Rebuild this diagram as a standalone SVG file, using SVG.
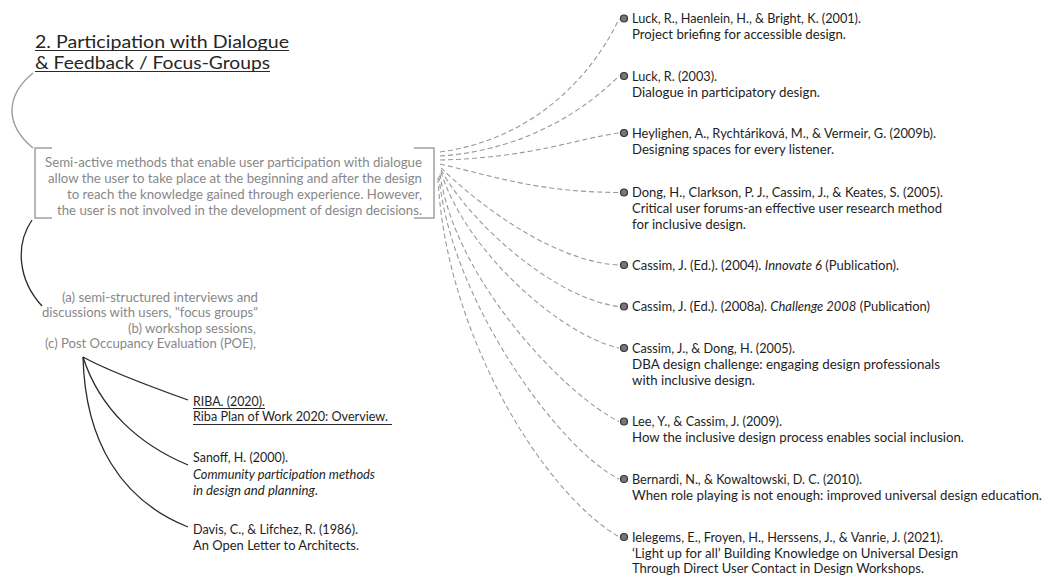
<svg xmlns="http://www.w3.org/2000/svg" width="1046" height="577" viewBox="0 0 1046 577">
  <style>
    text { font-family: Lato, "Liberation Sans", sans-serif; }
    .title { font-size: 17.5px; fill: #262626; }
    .para { font-size: 14px; fill: #888; text-anchor: end; }
    .item { font-size: 13.5px; fill: #888; text-anchor: end; }
    .ref { font-size: 13px; fill: #1e1e1e; }
    .it { font-style: italic; }
    .uline { stroke: #2a2a2a; stroke-width: 1.1; }
    .dash { fill: none; stroke: #999; stroke-width: 1.1; stroke-dasharray: 5 3; }
    .solid { fill: none; stroke: #2a2a2a; stroke-width: 1.3; }
    .grayarc { fill: none; stroke: #9c9c9c; stroke-width: 1.4; }
    .bracket { fill: none; stroke: #a0a0a0; stroke-width: 1.5; }
    .dot { fill: #777; stroke: #333; stroke-width: 1.2; }
  </style>

  <!-- connectors -->
  <g id="connectors">
    <!-- title to description, description to methods -->
    <path class="grayarc" d="M33,73 C5,96 5,125 33,148"/>
    <path class="solid" d="M32,220 C15,245 18,280 42,306"/>
    <!-- methods to references below -->
    <path class="solid" d="M83,357 C110,372 160,390 188,400"/>
    <path class="solid" d="M83,357 C100,410 140,445 188,465"/>
    <path class="solid" d="M83,357 C85,440 120,500 188,527"/>
    <!-- description to reference list -->
    <path class="dash" d="M440,152 C530,140 590,80 619,19"/>
    <path class="dash" d="M440,156 C530,150 590,105 619,76"/>
    <path class="dash" d="M440,160 C530,158 580,138 619,133"/>
    <path class="dash" d="M440,164 C500,178 540,192 619,192.5"/>
    <path class="dash" d="M441,168 C490,215 560,262 619,265"/>
    <path class="dash" d="M441,170 C475,230 560,300 619,306.5"/>
    <path class="dash" d="M441,172 C465,250 560,335 619,348"/>
    <path class="dash" d="M440,174 C455,280 565,395 619,421.5"/>
    <path class="dash" d="M439,176 C450,300 560,450 619,479"/>
    <path class="dash" d="M438,178 C445,330 540,490 619,537"/>
  </g>

  <!-- heading -->
  <g id="title">
    <text class="title" x="35" y="47.5" textLength="254" lengthAdjust="spacingAndGlyphs">2. Participation with Dialogue</text>
    <text class="title" x="35" y="68.5" textLength="235" lengthAdjust="spacingAndGlyphs">&amp; Feedback / Focus-Groups</text>
    <line class="uline" x1="35" y1="50.5" x2="289" y2="50.5"/>
    <line class="uline" x1="35" y1="71.5" x2="270" y2="71.5"/>
  </g>

  <!-- bracketed description -->
  <g id="description">
    <path class="bracket" d="M52,148 H35 V218 H52"/>
    <path class="bracket" d="M414,148 H434 V218 H414"/>
    <text class="para" x="422" y="166.5" textLength="377" lengthAdjust="spacingAndGlyphs">Semi-active methods that enable user participation with dialogue</text>
    <text class="para" x="422" y="182.5" textLength="374" lengthAdjust="spacingAndGlyphs">allow the user to take place at the beginning and after the design</text>
    <text class="para" x="422" y="198.5" textLength="355" lengthAdjust="spacingAndGlyphs">to reach the knowledge gained through experience. However,</text>
    <text class="para" x="422" y="214.5" textLength="365" lengthAdjust="spacingAndGlyphs">the user is not involved in the development of design decisions.</text>
  </g>

  <!-- methods -->
  <g id="methods">
    <text class="item" x="258" y="302" textLength="196" lengthAdjust="spacingAndGlyphs">(a) semi-structured interviews and</text>
    <text class="item" x="258" y="317" textLength="216" lengthAdjust="spacingAndGlyphs">discussions with users, "focus groups"</text>
    <text class="item" x="256" y="333" textLength="128" lengthAdjust="spacingAndGlyphs">(b) workshop sessions,</text>
    <text class="item" x="256" y="348" textLength="211" lengthAdjust="spacingAndGlyphs">(c) Post Occupancy Evaluation (POE),</text>
  </g>

  <!-- references for methods -->
  <g id="ref-riba">
    <text class="ref" x="193" y="406" textLength="72" lengthAdjust="spacingAndGlyphs">RIBA. (2020).</text>
    <text class="ref" x="193" y="421" textLength="195" lengthAdjust="spacingAndGlyphs">Riba Plan of Work 2020: Overview.</text>
    <line class="uline" x1="193" y1="408.5" x2="265" y2="408.5"/>
    <line class="uline" x1="193" y1="424.5" x2="392" y2="424.5"/>
  </g>
  <g id="ref-sanoff">
    <text class="ref" x="193" y="462" textLength="95" lengthAdjust="spacingAndGlyphs">Sanoff, H. (2000).</text>
    <text class="ref it" x="193" y="478.5" textLength="182" lengthAdjust="spacingAndGlyphs">Community participation methods</text>
    <text class="ref it" x="193" y="495" textLength="125" lengthAdjust="spacingAndGlyphs">in design and planning.</text>
  </g>
  <g id="ref-davis">
    <text class="ref" x="193" y="534" textLength="165" lengthAdjust="spacingAndGlyphs">Davis, C., &amp; Lifchez, R. (1986).</text>
    <text class="ref" x="193" y="550" textLength="166" lengthAdjust="spacingAndGlyphs">An Open Letter to Architects.</text>
  </g>

  <!-- reference list -->
  <g id="ref-luck-2001">
    <circle class="dot" cx="624" cy="18.5" r="3.5"/>
    <text class="ref" x="632" y="23" textLength="229" lengthAdjust="spacingAndGlyphs">Luck, R., Haenlein, H., &amp; Bright, K. (2001).</text>
    <text class="ref" x="632" y="39" textLength="214" lengthAdjust="spacingAndGlyphs">Project briefing for accessible design.</text>
  </g>
  <g id="ref-luck-2003">
    <circle class="dot" cx="624" cy="76" r="3.5"/>
    <text class="ref" x="632" y="80.5" textLength="85" lengthAdjust="spacingAndGlyphs">Luck, R. (2003).</text>
    <text class="ref" x="632" y="96.5" textLength="188" lengthAdjust="spacingAndGlyphs">Dialogue in participatory design.</text>
  </g>
  <g id="ref-heylighen">
    <circle class="dot" cx="624" cy="133" r="3.5"/>
    <text class="ref" x="632" y="137.5" textLength="304" lengthAdjust="spacingAndGlyphs">Heylighen, A., Rychtáriková, M., &amp; Vermeir, G. (2009b).</text>
    <text class="ref" x="632" y="153.5" textLength="202" lengthAdjust="spacingAndGlyphs">Designing spaces for every listener.</text>
  </g>
  <g id="ref-dong">
    <circle class="dot" cx="624" cy="192.5" r="3.5"/>
    <text class="ref" x="632" y="197" textLength="311" lengthAdjust="spacingAndGlyphs">Dong, H., Clarkson, P. J., Cassim, J., &amp; Keates, S. (2005).</text>
    <text class="ref" x="632" y="213" textLength="310" lengthAdjust="spacingAndGlyphs">Critical user forums-an effective user research method</text>
    <text class="ref" x="632" y="229" textLength="114" lengthAdjust="spacingAndGlyphs">for inclusive design.</text>
  </g>
  <g id="ref-cassim-2004">
    <circle class="dot" cx="624" cy="265" r="3.5"/>
    <text class="ref" x="632" y="269.5" textLength="267" lengthAdjust="spacingAndGlyphs">Cassim, J. (Ed.). (2004). <tspan class="it">Innovate 6</tspan> (Publication).</text>
  </g>
  <g id="ref-cassim-2008">
    <circle class="dot" cx="624" cy="306.5" r="3.5"/>
    <text class="ref" x="632" y="311" textLength="298" lengthAdjust="spacingAndGlyphs">Cassim, J. (Ed.). (2008a). <tspan class="it">Challenge 2008</tspan> (Publication)</text>
  </g>
  <g id="ref-cassim-dong">
    <circle class="dot" cx="624" cy="348" r="3.5"/>
    <text class="ref" x="632" y="352.5" textLength="163" lengthAdjust="spacingAndGlyphs">Cassim, J., &amp; Dong, H. (2005).</text>
    <text class="ref" x="632" y="368.5" textLength="308" lengthAdjust="spacingAndGlyphs">DBA design challenge: engaging design professionals</text>
    <text class="ref" x="632" y="384.5" textLength="123" lengthAdjust="spacingAndGlyphs">with inclusive design.</text>
  </g>
  <g id="ref-lee">
    <circle class="dot" cx="624" cy="421.5" r="3.5"/>
    <text class="ref" x="632" y="426" textLength="150" lengthAdjust="spacingAndGlyphs">Lee, Y., &amp; Cassim, J. (2009).</text>
    <text class="ref" x="632" y="442" textLength="332" lengthAdjust="spacingAndGlyphs">How the inclusive design process enables social inclusion.</text>
  </g>
  <g id="ref-bernardi">
    <circle class="dot" cx="624" cy="479" r="3.5"/>
    <text class="ref" x="632" y="483.5" textLength="230" lengthAdjust="spacingAndGlyphs">Bernardi, N., &amp; Kowaltowski, D. C. (2010).</text>
    <text class="ref" x="632" y="499.5" textLength="410" lengthAdjust="spacingAndGlyphs">When role playing is not enough: improved universal design education.</text>
  </g>
  <g id="ref-ielegems">
    <circle class="dot" cx="624" cy="537" r="3.5"/>
    <text class="ref" x="632" y="541.5" textLength="311" lengthAdjust="spacingAndGlyphs">Ielegems, E., Froyen, H., Herssens, J., &amp; Vanrie, J. (2021).</text>
    <text class="ref" x="632" y="557.5" textLength="326" lengthAdjust="spacingAndGlyphs">‘Light up for all’ Building Knowledge on Universal Design</text>
    <text class="ref" x="632" y="573" textLength="292" lengthAdjust="spacingAndGlyphs">Through Direct User Contact in Design Workshops.</text>
  </g>
</svg>
